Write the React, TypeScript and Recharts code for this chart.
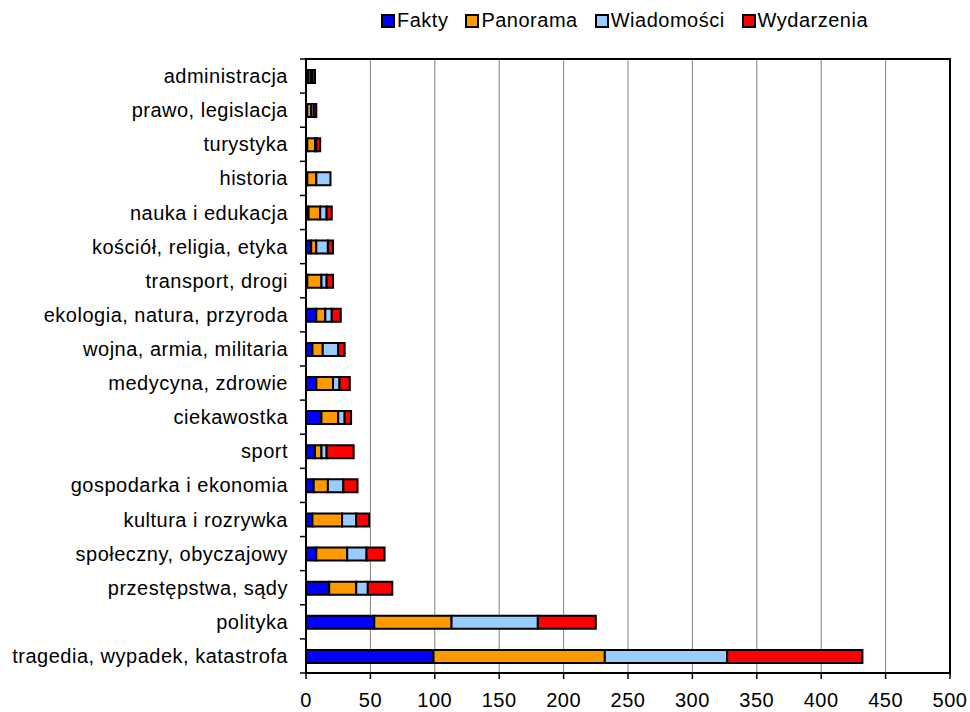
import React from 'react';
import { BarChart, Bar, XAxis, YAxis, CartesianGrid, ReferenceArea } from 'recharts';

const categories = [
    'administracja',
    'prawo, legislacja',
    'turystyka',
    'historia',
    'nauka i edukacja',
    'kościół, religia, etyka',
    'transport, drogi',
    'ekologia, natura, przyroda',
    'wojna, armia, militaria',
    'medycyna, zdrowie',
    'ciekawostka',
    'sport',
    'gospodarka i ekonomia',
    'kultura i rozrywka',
    'społeczny, obyczajowy',
    'przestępstwa, sądy',
    'polityka',
    'tragedia, wypadek, katastrofa',
];

const fakty = [2, 1, 1, 1, 2, 4, 1, 8, 5, 8, 12, 7, 6, 5, 8, 18, 53, 99];
const panorama = [2, 3, 6, 7, 9, 4, 11, 7, 8, 13, 13, 5, 11, 23, 24, 21, 60, 133];
const wiadomosci = [1, 2, 1, 11, 5, 9, 4, 5, 12, 5, 5, 4, 12, 11, 15, 9, 67, 95];
const wydarzenia = [2, 2, 3, 0, 4, 4, 5, 7, 5, 8, 5, 21, 11, 10, 14, 19, 45, 105];

const xTicks = [0, 50, 100, 150, 200, 250, 300, 350, 400, 450, 500];

const SERIES = [
    { key: 'Fakty', color: '#0000FF' },
    { key: 'Panorama', color: '#FF9900' },
    { key: 'Wiadomości', color: '#99CCFF' },
    { key: 'Wydarzenia', color: '#FF0000' },
];

const data = categories.map((name, i) => ({
    name,
    Fakty: fakty[i],
    Panorama: panorama[i],
    'Wiadomości': wiadomosci[i],
    Wydarzenia: wydarzenia[i],
}));

const WIDTH = 970;
const HEIGHT = 712;
const MARGIN = { top: 59, right: 20, bottom: 0, left: 0 };
const X_AXIS_H = 39;
const BAND = (HEIGHT - MARGIN.top - MARGIN.bottom - X_AXIS_H) / categories.length;
const FONT = '"Liberation Sans", Arial, sans-serif';

// category label + Excel-style tick marks between categories
const CategoryTick = ({ x, y, payload, index }: any) => {
    const top = y - BAND / 2;
    const bottom = y + BAND / 2;
    return (
        <g>
            <line x1={x + 12} x2={x + 18} y1={top} y2={top} stroke="#000" strokeWidth={1.5} />
            {index === categories.length - 1 && (
                <line x1={x + 12} x2={x + 18} y1={bottom} y2={bottom} stroke="#000" strokeWidth={1.5} />
            )}
            <text x={x} y={y} dy="0.355em" textAnchor="end" fill="#000"
                style={{ fontFamily: FONT, fontSize: 20, letterSpacing: 0.5 }}>
                {payload.value}
            </text>
        </g>
    );
};

const TopLegend = () => (
    <div style={{
        position: 'absolute', top: 9, left: 381, display: 'flex', alignItems: 'center',
        fontFamily: FONT, fontSize: 20, letterSpacing: 0.5, color: '#000',
    }}>
        {SERIES.map((s) => (
            <div key={s.key} style={{ display: 'flex', alignItems: 'center', marginRight: 17 }}>
                <span style={{
                    display: 'inline-block', width: 10, height: 10, background: s.color,
                    border: '2px solid #000', marginRight: 2,
                }} />
                <span>{s.key}</span>
            </div>
        ))}
    </div>
);

export default function App() {
    return (
        <div style={{ position: 'absolute', top: 0, left: 0, width: WIDTH, height: HEIGHT, background: '#fff' }}>
            <TopLegend />
            <BarChart width={WIDTH} height={HEIGHT} data={data} layout="vertical" margin={MARGIN} barSize={13}>
                <CartesianGrid horizontal={false} stroke="#808080" strokeWidth={1} />
                <XAxis
                    type="number"
                    domain={[0, 500]}
                    ticks={xTicks}
                    height={X_AXIS_H}
                    tickSize={6}
                    tickMargin={14}
                    axisLine={{ stroke: '#000', strokeWidth: 2 }}
                    tickLine={{ stroke: '#000', strokeWidth: 1.5 }}
                    tick={{ fill: '#000', fontSize: 20, fontFamily: FONT, letterSpacing: 0.5 }}
                />
                <YAxis
                    type="category"
                    dataKey="name"
                    width={306}
                    interval={0}
                    tickSize={6}
                    tickMargin={12}
                    tickLine={false}
                    axisLine={{ stroke: '#000', strokeWidth: 2 }}
                    tick={<CategoryTick />}
                />
                {SERIES.map((s) => (
                    <Bar
                        key={s.key}
                        dataKey={s.key}
                        stackId="a"
                        fill={s.color}
                        stroke="#000"
                        strokeWidth={2}
                        isAnimationActive={false}
                    />
                ))}
                <ReferenceArea x1={0} x2={500} fill="none" stroke="#000" strokeWidth={2} ifOverflow="visible" />
            </BarChart>
        </div>
    );
}
